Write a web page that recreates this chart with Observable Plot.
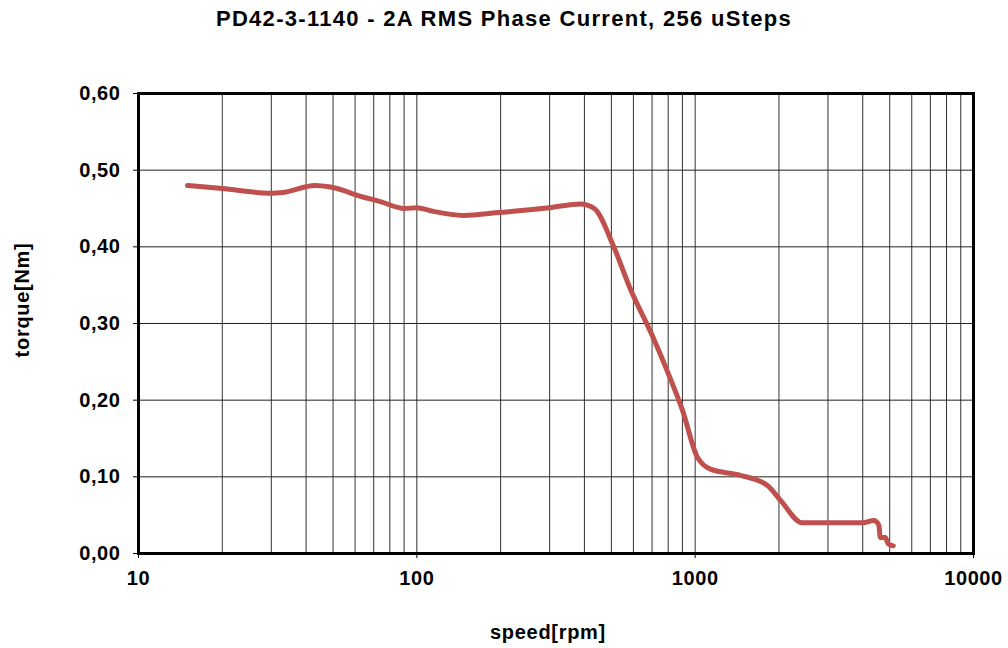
<!DOCTYPE html>
<html>
<head>
<meta charset="utf-8">
<script src="https://cdn.jsdelivr.net/npm/d3@7"></script>
<script src="https://cdn.jsdelivr.net/npm/@observablehq/plot@0.6"></script>
<style>
  html, body { margin: 0; padding: 0; background: #fff; }
  #wrap { position: relative; width: 1008px; height: 648px; font-family: "Liberation Sans", Arial, sans-serif; font-weight: bold; color: #000; }
  .t { position: absolute; white-space: nowrap; line-height: 1; }
  #title { left: 0; width: 1008px; top: 8px; text-align: center; font-size: 22px; letter-spacing: 1.3px; }
  #xlabel { left: 0; width: 1096px; top: 622px; text-align: center; font-size: 20px; letter-spacing: 0.7px; }
  #ylabel { left: 22px; top: 300px; font-size: 20px; letter-spacing: 0.7px; transform: translate(-50%, -50%) rotate(-90deg); }
  #chart svg text { letter-spacing: 0.6px; }
</style>
</head>
<body>
<div id="wrap">
  <div id="chart"></div>
  <div class="t" id="title">PD42-3-1140 - 2A RMS Phase Current, 256 uSteps</div>
  <div class="t" id="xlabel">speed[rpm]</div>
  <div class="t" id="ylabel">torque[Nm]</div>
</div>
<script>
const speed  = [15, 20, 30, 33, 43, 49, 64, 74, 90, 100, 112, 147, 200, 300, 387, 434, 510, 585, 700, 800, 900, 1017, 1135, 1455, 1815, 2030, 2425, 3000, 4000, 4385, 4570, 4625, 4825, 4930, 5150];
const torque = [0.480, 0.476, 0.470, 0.471, 0.480, 0.478, 0.465, 0.459, 0.450, 0.451, 0.447, 0.441, 0.445, 0.451, 0.456, 0.450, 0.400, 0.345, 0.285, 0.235, 0.187, 0.126, 0.110, 0.102, 0.089, 0.069, 0.040, 0.040, 0.040, 0.043, 0.037, 0.021, 0.021, 0.013, 0.010];
const xTicks = [10, 100, 1000, 10000];
const xGrid = [20,30,40,50,60,70,80,90,100,200,300,400,500,600,700,800,900,1000,2000,3000,4000,5000,6000,7000,8000,9000];
const yTicks = [0, 0.1, 0.2, 0.3, 0.4, 0.5, 0.6];

const data = speed.map((s, i) => ({speed: s, torque: torque[i]}));

const chart = Plot.plot({
  width: 1008,
  height: 648,
  marginLeft: 138,
  marginRight: 35,
  marginTop: 93,
  marginBottom: 95,
  style: {fontFamily: "'Liberation Sans', Arial, sans-serif", fontSize: "20px", fontWeight: "bold", color: "#000", background: "#fff"},
  x: {type: "log", domain: [10, 10000], ticks: xTicks, tickFormat: d => String(d), tickSize: 5, tickPadding: 12, label: null},
  y: {domain: [0, 0.6], ticks: yTicks, tickFormat: d => d.toFixed(2).replace(".", ","), tickSize: 5, tickPadding: 13, label: null},
  marks: [
    Plot.ruleX(xGrid, {stroke: "#333", strokeWidth: 1}),
    Plot.ruleY(yTicks, {stroke: "#222", strokeWidth: 1}),
    Plot.line(data, {x: "speed", y: "torque", stroke: "#c0504d", strokeWidth: 5, curve: "monotone-x", strokeLinecap: "round"}),
    Plot.frame({stroke: "#000", strokeWidth: 3})
  ]
});
document.getElementById("chart").appendChild(chart);
</script>
</body>
</html>
